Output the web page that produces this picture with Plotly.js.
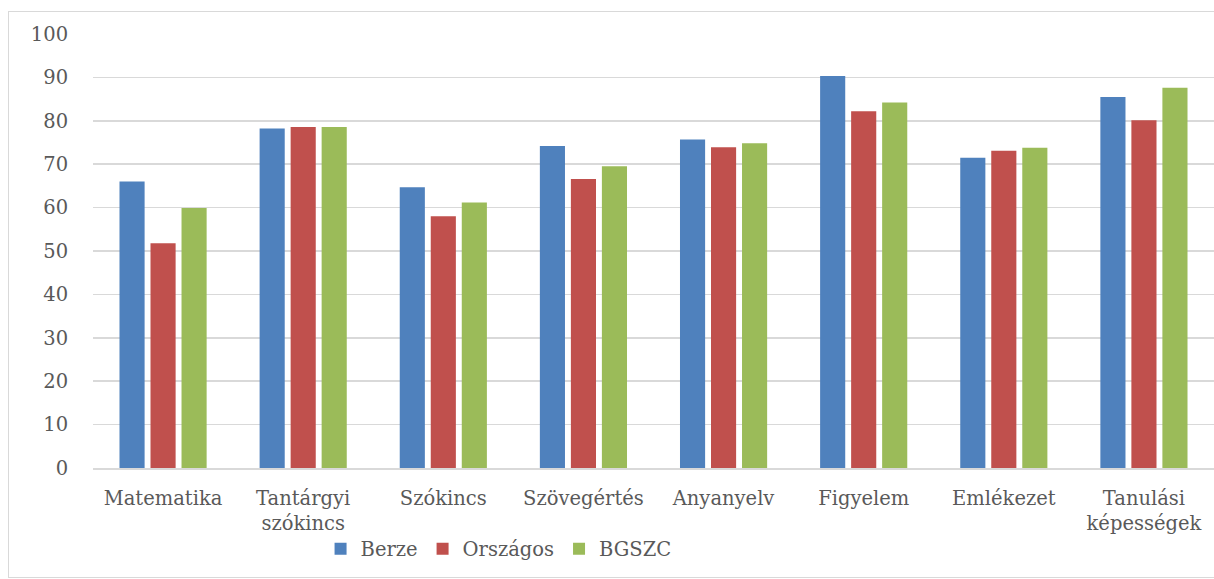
<!DOCTYPE html>
<html><head><meta charset="utf-8">
<script src="https://cdn.plot.ly/plotly-3.0.1.min.js"></script>
<style>
html,body{margin:0;padding:0;background:#fff;overflow:hidden;}
#wrap{position:relative;width:1214px;height:579px;overflow:hidden;}
#chart{position:absolute;left:0;top:0;width:1214px;height:579px;}
#frame{position:absolute;left:8px;top:11px;width:1220px;height:565px;border:1px solid #d9d9d9;pointer-events:none;}
</style></head>
<body>
<div id="wrap"><div id="chart"></div><div id="frame"></div></div>
<script>
const categories = ["Matematika","Tantárgyi<br>szókincs","Szókincs","Szövegértés","Anyanyelv","Figyelem","Emlékezet","Tanulási<br>képességek"];
const berze = [66.0, 78.2, 64.7, 74.2, 75.7, 90.3, 71.5, 85.5];
const orszagos = [51.8, 78.6, 58.0, 66.6, 73.9, 82.2, 73.1, 80.1];
const bgszc = [59.9, 78.6, 61.2, 69.5, 74.8, 84.2, 73.8, 87.6];
const seriesNames = ["Berze","Országos","BGSZC"];
const colors = ["#4f81bd","#c0504d","#9bbb59"];
const yTicks = [0,10,20,30,40,50,60,70,80,90,100];

const font = "DejaVu Serif";
const fs = 19.5;
const data = [berze, orszagos, bgszc].map((vals,i)=>({
  type:"bar", x:categories, y:vals, name:seriesNames[i],
  marker:{color:colors[i], line:{width:0}}
}));
const layout = {
  width:1214, height:579,
  margin:{l:93, r:0, t:34, b:111},
  paper_bgcolor:"rgba(0,0,0,0)", plot_bgcolor:"#fff",
  barmode:"group", bargap:0.336, bargroupgap:0.19,
  font:{family:font, size:fs, color:"#595959"},
  xaxis:{type:"category", showgrid:false, showline:true, linecolor:"#d9d9d9", linewidth:1.5,
    ticks:"outside", ticklen:12, tickcolor:"rgba(0,0,0,0)", tickfont:{family:font,size:fs,color:"#595959"}},
  yaxis:{range:[0,100], tickvals:yTicks, showgrid:true, gridcolor:"#d9d9d9", gridwidth:1.5,
    zeroline:false, showline:false, ticks:"outside", ticklen:20, tickcolor:"rgba(0,0,0,0)",
    tickfont:{family:font,size:fs,color:"#595959"}},
  showlegend:true,
  legend:{orientation:"h", x:0.203, xanchor:"left", y:-0.187, yanchor:"middle",
    font:{family:font,size:fs,color:"#595959"}, itemwidth:30, tracegroupgap:0}
};
Plotly.newPlot("chart", data, layout, {displayModeBar:false, staticPlot:true});
</script>
</body></html>
